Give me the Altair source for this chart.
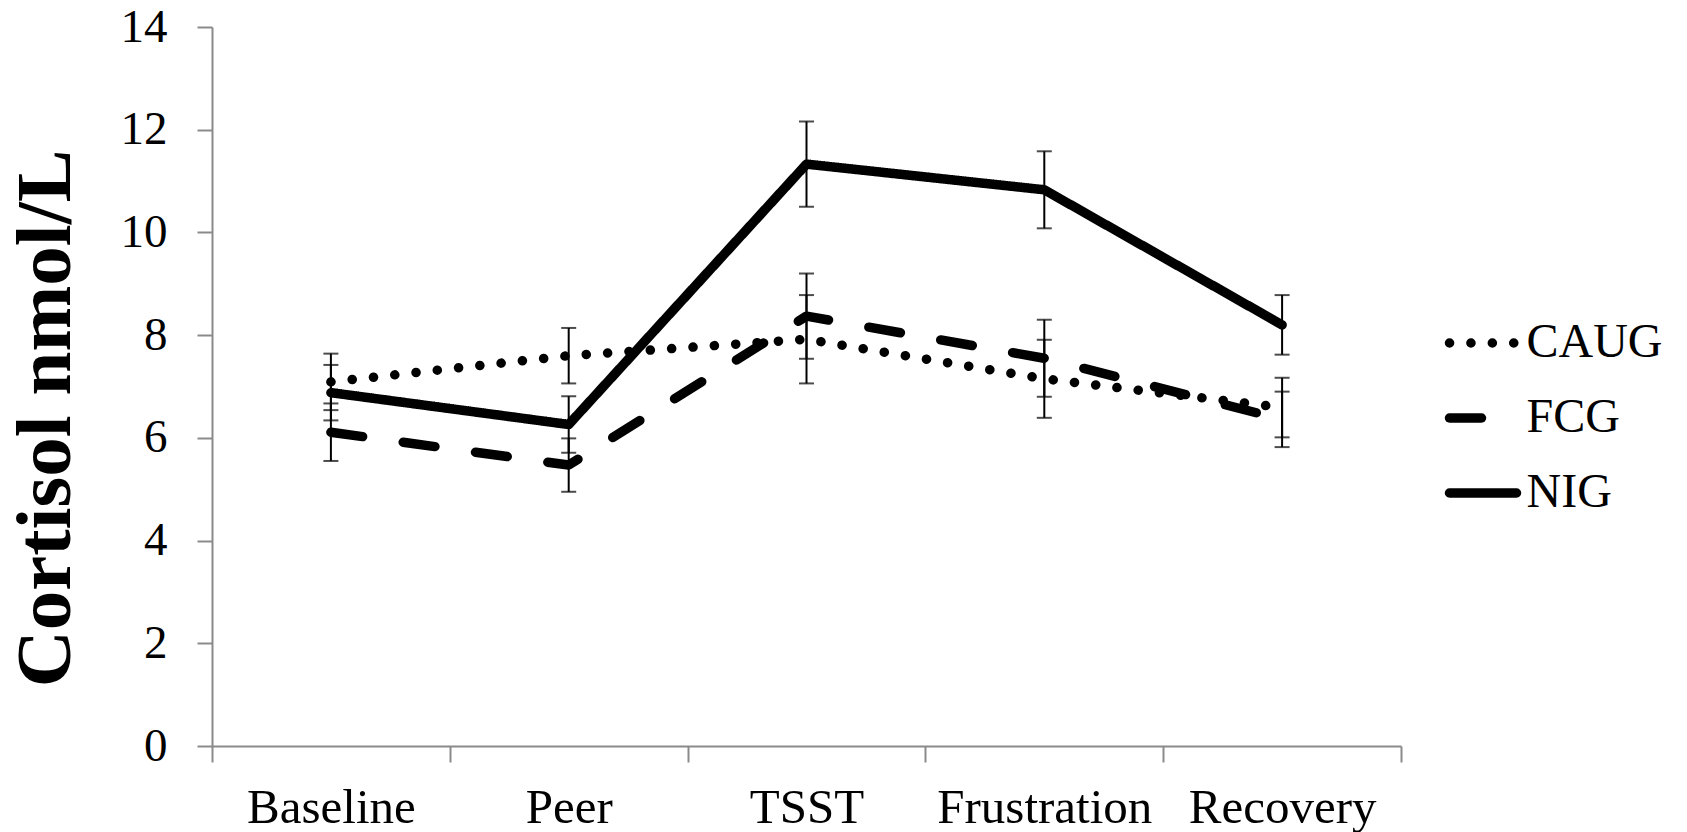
import altair as alt
import pandas as pd

FONT = "Liberation Serif"
AXIS_GRAY = "#8a8a8a"

stages = ["Baseline", "Peer", "TSST", "Frustration", "Recovery"]
groups = ["CAUG", "FCG", "NIG"]

# Mean cortisol (nmol/L) and standard error per stage
caug_mean = [7.09, 7.60, 7.92, 7.15, 6.59]
caug_err = [0.55, 0.54, 0.86, 0.76, 0.58]
fcg_mean = [6.11, 5.47, 8.37, 7.55, 6.36]
fcg_err = [0.56, 0.52, 0.83, 0.75, 0.54]
nig_mean = [6.88, 6.26, 11.33, 10.83, 8.20]
nig_err = [0.54, 0.55, 0.83, 0.75, 0.58]

y_ticks = [0, 2, 4, 6, 8, 10, 12, 14]

rows = []
for g, means, errs in [("CAUG", caug_mean, caug_err),
                       ("FCG", fcg_mean, fcg_err),
                       ("NIG", nig_mean, nig_err)]:
    for s, m, e in zip(stages, means, errs):
        rows.append({"stage": s, "group": g, "mean": m, "lo": m - e, "hi": m + e})
df = pd.DataFrame(rows)

# Key rows: each series gets a short sample stroke from pos 0 to pos 1.
key_df = pd.DataFrame([{"group": g, "pos": p} for g in groups for p in (0, 1)])

LINE_W = 9.5
dash_scale = alt.Scale(domain=groups, range=[[0.1, 21.3], [32, 41], [1, 0]])

x_scale = alt.Scale(type="band", domain=stages, paddingInner=0, paddingOuter=0)
x_axis = alt.Axis(
    title=None, tickBand="extent", labelAngle=0, labelFont=FONT, labelFontSize=49,
    labelColor="black", labelBaseline="alphabetic", labelPadding=60, tickSize=16,
    tickColor=AXIS_GRAY, tickWidth=2, domainColor=AXIS_GRAY, domainWidth=2,
    labelFlush=False, labelLimit=400, grid=False,
)
x_enc = alt.X("stage:N", sort=stages, scale=x_scale, bandPosition=0.5, axis=x_axis)

y_scale = alt.Scale(domain=[0, 14], nice=False, zero=True)
y_axis = alt.Axis(
    values=y_ticks, title="Cortisol nmol/L", titleFont=FONT, titleFontSize=79,
    titleFontWeight="bold", titleColor="black", titleAngle=270, titleAlign="center",
    titleBaseline="middle", titleX=-167, titleY=391,
    labelFont=FONT, labelFontSize=47, labelColor="black", labelPadding=30,
    tickSize=15, tickColor=AXIS_GRAY, tickWidth=2, domainColor=AXIS_GRAY,
    domainWidth=2, grid=False,
)

base = alt.Chart(df)

lines = base.mark_line(
    color="black", strokeWidth=LINE_W, strokeCap="round", strokeJoin="round"
).encode(
    x=x_enc,
    y=alt.Y("mean:Q", scale=y_scale, axis=y_axis),
    strokeDash=alt.StrokeDash("group:N", scale=dash_scale, legend=None),
)

bars = base.mark_rule(color="black", strokeWidth=2).encode(
    x=x_enc, y=alt.Y("lo:Q", scale=y_scale, axis=y_axis), y2="hi:Q"
)
caps_lo = base.mark_tick(color="black", orient="horizontal", size=15, thickness=2).encode(
    x=x_enc, y=alt.Y("lo:Q", scale=y_scale, axis=y_axis)
)
caps_hi = base.mark_tick(color="black", orient="horizontal", size=15, thickness=2).encode(
    x=x_enc, y=alt.Y("hi:Q", scale=y_scale, axis=y_axis)
)

plot = alt.layer(lines, bars, caps_lo, caps_hi)

# Series key to the right of the plot, on its own scales.
key_x = alt.X("pos:Q", scale=alt.Scale(domain=[0, 1], range=[1237.5, 1304.5]), axis=None)
key_y = alt.Y("group:N", scale=alt.Scale(type="point", domain=groups, range=[316, 466], padding=0), axis=None)

key_base = alt.Chart(key_df)
key_lines = key_base.mark_line(
    color="black", strokeWidth=LINE_W, strokeCap="round"
).encode(
    x=key_x, y=key_y,
    strokeDash=alt.StrokeDash("group:N", scale=dash_scale, legend=None),
)
key_text = key_base.transform_filter("datum.pos == 1").mark_text(
    align="left", baseline="middle", dx=10, font=FONT, fontSize=48, color="black"
).encode(x=key_x, y=key_y, text="group:N")

key = alt.layer(key_lines, key_text)

chart = alt.layer(plot, key).resolve_scale(x="independent", y="independent").properties(
    width=1189,
    height=719,
    autosize=alt.AutoSizeParams(type="none"),
    padding={"left": 212, "top": 27, "right": 286, "bottom": 86},
    background="white",
).configure_view(stroke=None)

chart.save("out.html", embed_options={"renderer": "svg", "actions": False})
